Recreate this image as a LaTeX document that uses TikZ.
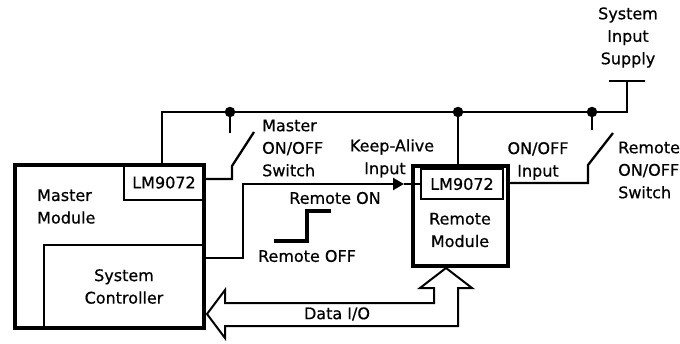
\documentclass[tikz,border=0pt]{standalone}
\usepackage{fontspec}
\newfontfamily\diagfont[FakeBold=0.6]{DejaVu Sans}
\usetikzlibrary{arrows.meta}

\tikzstyle{txt} = [font=\diagfont\fontsize{16}{22.5}\selectfont, inner sep=0pt, align=center]
\tikzstyle{module} = [draw, line width=4.6pt, inner sep=0pt, outer sep=0pt, anchor=north west]
\tikzstyle{chip} = [draw, line width=2.3pt, inner sep=0pt, outer sep=0pt, anchor=north west, txt]
\tikzstyle{wire} = [draw, line width=2.3pt]
\tikzstyle{stepline} = [draw, line width=4pt]
\tikzstyle{junction} = [circle, fill, inner sep=0pt, minimum size=10.5pt]
\tikzstyle{bigarrow} = [draw, line width=2pt, line join=miter]

\begin{document}
\begin{tikzpicture}[x=1pt,y=-1pt]
      \useasboundingbox (0,0) rectangle (680,343);
      %% modules and chips
      \node[module, minimum width=189pt, minimum height=163pt] (master) at (15,165) {};
      \node[chip, minimum width=80pt, minimum height=35pt] (mlm) at (124,165) {LM9072};
      \node[chip, minimum width=160pt, minimum height=83pt] (ctrl) at (44,245) {System\\Controller};
      \node[module, minimum width=95pt, minimum height=100pt] (remote) at (413,166) {};
      \node[chip, minimum width=82pt, minimum height=30pt] (rlm) at (421,169) {LM9072};

      %% texts
      \node[txt, anchor=west, align=left] (mastertxt) at (37,206.5) {Master\\Module};
      \node[txt] (remotetxt) at (460,230) {Remote\\Module};
      \node[txt] (supplytxt) at (628,37.5) {System\\Input\\Supply};
      \node[txt, anchor=west, align=left] (mswtxt) at (262,148) {Master\\ON/OFF\\Switch};
      \node[txt, anchor=west, align=left] (rswtxt) at (618,170) {Remote\\ON/OFF\\Switch};
      \node[txt] (katxt) at (392,147) {Keep-Alive};
      \node[txt] (kainput) at (385,170) {Input};
      \node[txt] (onofftxt) at (538,161) {ON/OFF\\Input};
      \node[txt] (rontxt) at (335,198) {Remote ON};
      \node[txt] (rofftxt) at (307,256) {Remote OFF};
      \node[txt] (datatxt) at (337,314) {Data I/O};

      %% junctions on the supply bus
      \foreach \name/\x in {jm/230, jr/458, js/592}
      {
        \node[junction] (\name) at (\x,112) {};
      }

      % supply bus
      \coordinate (supply) at (627,81);
      \draw[wire] (mlm.north -| 162,0) |- (jm.center) -- (jr.center) -- (js.center) -| (supply);
      \draw[wire] (609,81) -- (645,81);
      \draw[wire] (jr.center) -- (remote.north -| jr);

      % master switch
      \coordinate (mstub) at (230,133);
      \coordinate (mpivot) at (232,166);
      \coordinate (mtip) at (254,132);
      \coordinate (mlow) at (232,179);
      \draw[wire] (jm.center) -- (mstub);
      \draw[wire] (mtip) -- (mpivot) -- (mlow) -- (mlow -| mlm.east);

      % remote switch
      \coordinate (rstub) at (592,130);
      \coordinate (rpivot) at (588,165);
      \coordinate (rtip) at (613,133);
      \coordinate (rlow) at (588,183);
      \draw[wire] (js.center) -- (rstub);
      \draw[wire] (rtip) -- (rpivot) -- (rlow) -- (rlow -| remote.east);

      % keep-alive line
      \coordinate (kbend) at (243,258);
      \coordinate (katip) at (404,184);
      \draw[wire, -{Triangle[length=11pt,width=12pt]}] (kbend -| ctrl.east) -- (kbend) |- (katip);
      \draw[wire] (katip) -- (katip -| rlm.west);

      % remote on/off step
      \draw[stepline] (274,241) -- (307,241) -- (307,211) -- (331,211);

      % data i/o arrow
      \coordinate (datatip) at (207,314);
      \coordinate (dataup) at (446,268);
      \draw[bigarrow] (datatip) -- (225,290) -- (225,303) -- (434,303) -- (434,288) -- (420,288)
        -- (dataup) -- (472,288) -- (458,288) -- (458,326) -- (225,326) -- (225,338) -- cycle;
\end{tikzpicture}
\end{document}
